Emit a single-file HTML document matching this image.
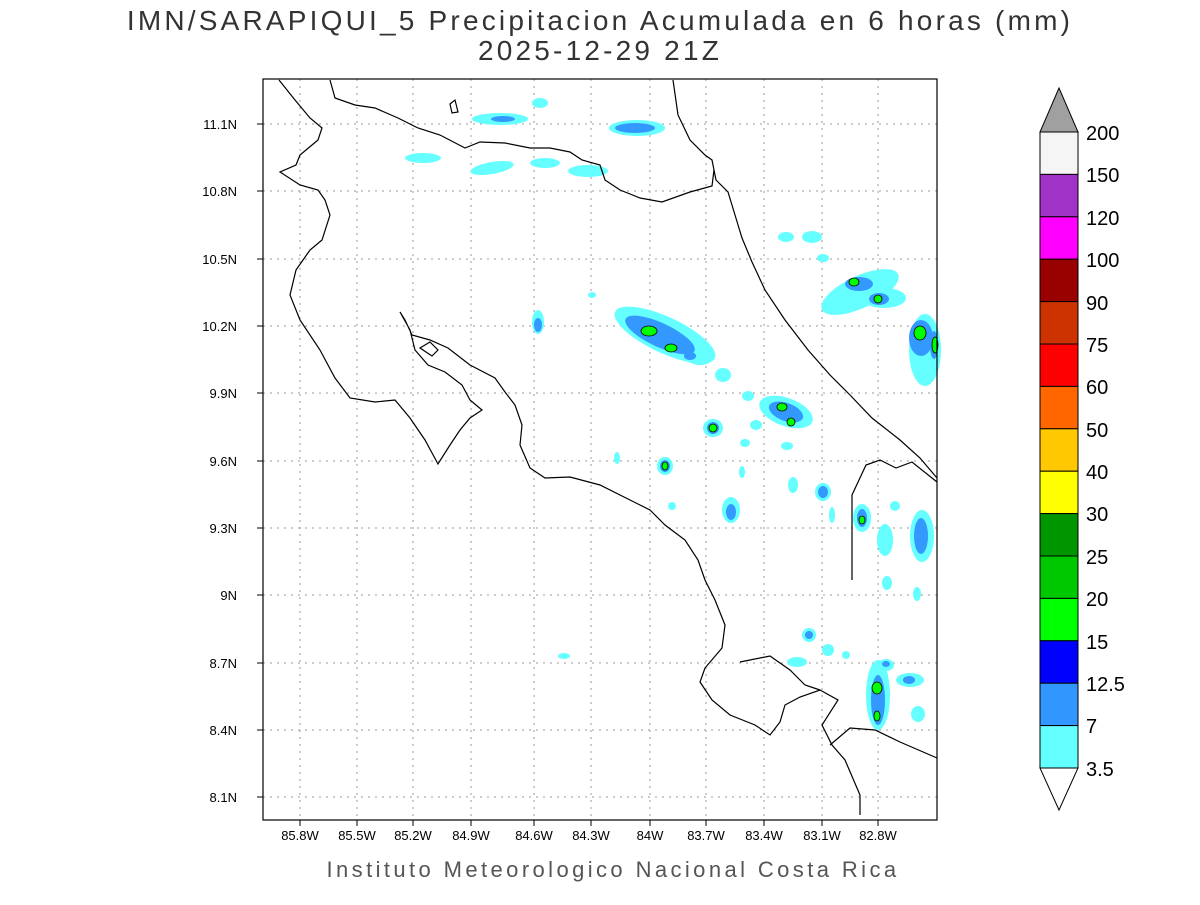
<!DOCTYPE html>
<html><head><meta charset="utf-8"><style>
body{margin:0;background:#fff;}
svg text{font-family:"Liberation Sans",sans-serif;}
</style></head><body>
<svg width="1200" height="900" xmlns="http://www.w3.org/2000/svg">
<rect width="1200" height="900" fill="#fff"/>
<text x="600" y="30" font-size="28" text-anchor="middle" fill="#333" letter-spacing="3.2">IMN/SARAPIQUI_5 Precipitacion Acumulada en 6 horas (mm)</text>
<text x="600" y="60" font-size="28" text-anchor="middle" fill="#333" letter-spacing="3.2">2025-12-29 21Z</text>
<text x="613" y="877" font-size="22" text-anchor="middle" fill="#555" letter-spacing="3.4">Instituto Meteorologico Nacional Costa Rica</text>
<g stroke="#999" stroke-dasharray="2,5" stroke-width="1">
<line x1="300" y1="79" x2="300" y2="820"/><line x1="357" y1="79" x2="357" y2="820"/><line x1="413" y1="79" x2="413" y2="820"/><line x1="471" y1="79" x2="471" y2="820"/><line x1="534" y1="79" x2="534" y2="820"/><line x1="591" y1="79" x2="591" y2="820"/><line x1="650" y1="79" x2="650" y2="820"/><line x1="706" y1="79" x2="706" y2="820"/><line x1="764" y1="79" x2="764" y2="820"/><line x1="822" y1="79" x2="822" y2="820"/><line x1="878" y1="79" x2="878" y2="820"/>
<line x1="263" y1="124" x2="937" y2="124"/><line x1="263" y1="191" x2="937" y2="191"/><line x1="263" y1="259" x2="937" y2="259"/><line x1="263" y1="326" x2="937" y2="326"/><line x1="263" y1="393" x2="937" y2="393"/><line x1="263" y1="461" x2="937" y2="461"/><line x1="263" y1="528" x2="937" y2="528"/><line x1="263" y1="595" x2="937" y2="595"/><line x1="263" y1="663" x2="937" y2="663"/><line x1="263" y1="730" x2="937" y2="730"/><line x1="263" y1="797" x2="937" y2="797"/>
</g>
<g>
<g fill="#66ffff">
<ellipse cx="500" cy="119" rx="28" ry="6"/><ellipse cx="540" cy="103" rx="8" ry="5"/><ellipse cx="423" cy="158" rx="18" ry="5"/><ellipse cx="492" cy="168" rx="22" ry="6" transform="rotate(-10 492 168)"/><ellipse cx="545" cy="163" rx="15" ry="5"/><ellipse cx="588" cy="171" rx="20" ry="6"/><ellipse cx="637" cy="128" rx="28" ry="8"/>
<ellipse cx="786" cy="237" rx="8" ry="5"/><ellipse cx="812" cy="237" rx="10" ry="6"/><ellipse cx="823" cy="258" rx="6" ry="4"/>
<ellipse cx="860" cy="292" rx="42" ry="16" transform="rotate(-25 860 292)"/><ellipse cx="884" cy="298" rx="22" ry="10"/>
<ellipse cx="925" cy="350" rx="16" ry="36"/>
<ellipse cx="538" cy="322" rx="6" ry="12"/><ellipse cx="592" cy="295" rx="4" ry="3"/>
<ellipse cx="665" cy="335" rx="55" ry="18" transform="rotate(25 665 335)"/><ellipse cx="700" cy="357" rx="14" ry="8"/>
<ellipse cx="723" cy="375" rx="8" ry="7"/><ellipse cx="748" cy="396" rx="6" ry="5"/><ellipse cx="786" cy="412" rx="28" ry="14" transform="rotate(20 786 412)"/><ellipse cx="713" cy="428" rx="10" ry="9"/><ellipse cx="756" cy="425" rx="6" ry="5"/><ellipse cx="745" cy="443" rx="5" ry="4"/><ellipse cx="787" cy="446" rx="6" ry="4"/>
<ellipse cx="665" cy="466" rx="8" ry="9"/><ellipse cx="617" cy="458" rx="3" ry="6"/><ellipse cx="731" cy="510" rx="9" ry="13"/><ellipse cx="672" cy="506" rx="4" ry="4"/><ellipse cx="793" cy="485" rx="5" ry="8"/><ellipse cx="823" cy="492" rx="8" ry="9"/><ellipse cx="832" cy="515" rx="3" ry="8"/><ellipse cx="742" cy="472" rx="3" ry="6"/>
<ellipse cx="862" cy="518" rx="9" ry="14"/><ellipse cx="885" cy="540" rx="8" ry="16"/><ellipse cx="922" cy="536" rx="12" ry="26"/><ellipse cx="895" cy="506" rx="5" ry="5"/><ellipse cx="887" cy="583" rx="5" ry="7"/><ellipse cx="917" cy="594" rx="4" ry="7"/>
<ellipse cx="809" cy="635" rx="7" ry="7"/><ellipse cx="828" cy="650" rx="6" ry="6"/><ellipse cx="797" cy="662" rx="10" ry="5"/><ellipse cx="846" cy="655" rx="4" ry="4"/>
<ellipse cx="878" cy="695" rx="12" ry="35"/><ellipse cx="886" cy="665" rx="8" ry="6"/><ellipse cx="910" cy="680" rx="14" ry="7"/><ellipse cx="918" cy="714" rx="7" ry="8"/><ellipse cx="564" cy="656" rx="6" ry="3"/>
</g>
<g fill="#3399ff">
<ellipse cx="503" cy="119" rx="12" ry="3"/><ellipse cx="635" cy="128" rx="20" ry="5"/><ellipse cx="859" cy="284" rx="14" ry="7"/><ellipse cx="879" cy="299" rx="10" ry="6"/><ellipse cx="921" cy="338" rx="12" ry="18"/><ellipse cx="934" cy="345" rx="4" ry="14"/>
<ellipse cx="538" cy="325" rx="4" ry="7"/><ellipse cx="660" cy="335" rx="38" ry="12" transform="rotate(25 660 335)"/><ellipse cx="690" cy="356" rx="6" ry="4"/><ellipse cx="786" cy="412" rx="18" ry="9" transform="rotate(20 786 412)"/><ellipse cx="713" cy="428" rx="6" ry="6"/><ellipse cx="665" cy="466" rx="5" ry="6"/><ellipse cx="731" cy="512" rx="5" ry="8"/><ellipse cx="823" cy="492" rx="5" ry="6"/><ellipse cx="862" cy="518" rx="5" ry="9"/><ellipse cx="921" cy="536" rx="7" ry="18"/><ellipse cx="809" cy="635" rx="4" ry="4"/><ellipse cx="878" cy="700" rx="7" ry="25"/><ellipse cx="909" cy="680" rx="6" ry="4"/><ellipse cx="886" cy="664" rx="4" ry="3"/>
</g>
<g fill="#00ff00" stroke="#000" stroke-width="0.8">
<ellipse cx="649" cy="331" rx="8" ry="5"/><ellipse cx="671" cy="348" rx="6" ry="4"/><ellipse cx="854" cy="282" rx="5" ry="4"/><ellipse cx="878" cy="299" rx="4" ry="4"/><ellipse cx="920" cy="333" rx="6" ry="7"/><ellipse cx="935" cy="345" rx="3" ry="8"/><ellipse cx="782" cy="407" rx="5" ry="4"/><ellipse cx="791" cy="422" rx="4" ry="4"/><ellipse cx="713" cy="428" rx="4" ry="4"/><ellipse cx="665" cy="466" rx="3" ry="4"/><ellipse cx="862" cy="520" rx="3" ry="4"/><ellipse cx="877" cy="688" rx="5" ry="6"/><ellipse cx="877" cy="716" rx="3" ry="5"/>
</g>
</g>
<g fill="none" stroke="#000" stroke-width="1.2">
<polyline points="279,80 295,100 310,118 322,128 318,140 300,155 296,165 280,172 300,185 318,190 325,200 330,215 322,240 310,250 296,270 290,295 300,320 320,350 335,378 350,398 375,402 395,400 410,418 425,440 438,464 450,445 460,430 470,418 482,410 470,400 462,385 445,372 428,365 415,350 410,330 400,312 405,320 412,335 430,340 448,348 470,365 495,378 505,392 515,405 522,425 520,445 530,468 545,478 570,477 600,485 630,500 650,510 665,525 685,540 698,560 705,580 715,600 725,625 722,648 705,668 700,682 712,700 730,715 755,725 770,735 780,722 785,705 800,697 820,690 838,700 822,725 832,745 845,760 860,795 860,815"/>
<polyline points="740,662 770,656 790,670 805,685 820,690"/>
<polyline points="673,80 678,115 690,140 705,155 712,160 716,180 728,192 735,215 742,238 752,262 765,290 785,320 808,350 830,375 850,395 872,418 900,440 920,458 937,478"/>
<polyline points="852,580 852,495 866,465 880,460 896,468 912,462 937,482"/>
<polyline points="330,80 335,98 355,105 375,108 398,118 418,128 440,135 465,148 480,142 505,143 530,148 550,148 570,152 582,160 600,165 605,180 620,190 640,198 662,202 690,192 712,186 714,170"/>
<polygon points="420,348 430,342 438,350 432,356"/>
<polygon points="450,104 455,100 458,112 452,113"/>
<polyline points="830,745 850,728 875,730 900,742 937,758"/>
</g>
<rect x="263" y="79" width="674" height="741" fill="none" stroke="#000" stroke-width="1.2"/>
<g font-size="13" fill="#000" text-anchor="middle">
<text x="300" y="840">85.8W</text><text x="357" y="840">85.5W</text><text x="413" y="840">85.2W</text><text x="471" y="840">84.9W</text><text x="534" y="840">84.6W</text><text x="591" y="840">84.3W</text><text x="650" y="840">84W</text><text x="706" y="840">83.7W</text><text x="764" y="840">83.4W</text><text x="822" y="840">83.1W</text><text x="878" y="840">82.8W</text>
</g>
<g font-size="13" fill="#000" text-anchor="end">
<text x="237" y="129">11.1N</text><text x="237" y="196">10.8N</text><text x="237" y="264">10.5N</text><text x="237" y="331">10.2N</text><text x="237" y="398">9.9N</text><text x="237" y="466">9.6N</text><text x="237" y="533">9.3N</text><text x="237" y="600">9N</text><text x="237" y="668">8.7N</text><text x="237" y="735">8.4N</text><text x="237" y="802">8.1N</text>
</g>
<g stroke="#000" stroke-width="1">
<line x1="263" y1="124" x2="257" y2="124"/><line x1="263" y1="191" x2="257" y2="191"/><line x1="263" y1="259" x2="257" y2="259"/><line x1="263" y1="326" x2="257" y2="326"/><line x1="263" y1="393" x2="257" y2="393"/><line x1="263" y1="461" x2="257" y2="461"/><line x1="263" y1="528" x2="257" y2="528"/><line x1="263" y1="595" x2="257" y2="595"/><line x1="263" y1="663" x2="257" y2="663"/><line x1="263" y1="730" x2="257" y2="730"/><line x1="263" y1="797" x2="257" y2="797"/>
<line x1="300" y1="820" x2="300" y2="826"/><line x1="357" y1="820" x2="357" y2="826"/><line x1="413" y1="820" x2="413" y2="826"/><line x1="471" y1="820" x2="471" y2="826"/><line x1="534" y1="820" x2="534" y2="826"/><line x1="591" y1="820" x2="591" y2="826"/><line x1="650" y1="820" x2="650" y2="826"/><line x1="706" y1="820" x2="706" y2="826"/><line x1="764" y1="820" x2="764" y2="826"/><line x1="822" y1="820" x2="822" y2="826"/><line x1="878" y1="820" x2="878" y2="826"/>
</g>
<g stroke="#000" stroke-width="1">
<polygon points="1040,132 1078,132 1059,88" fill="#a0a0a0"/>
<rect x="1040" y="132" width="38" height="42.4" fill="#f5f5f5"/>
<rect x="1040" y="174.4" width="38" height="42.4" fill="#a032c8"/>
<rect x="1040" y="216.8" width="38" height="42.4" fill="#ff00ff"/>
<rect x="1040" y="259.2" width="38" height="42.4" fill="#990000"/>
<rect x="1040" y="301.6" width="38" height="42.4" fill="#cc3300"/>
<rect x="1040" y="344" width="38" height="42.4" fill="#ff0000"/>
<rect x="1040" y="386.4" width="38" height="42.4" fill="#ff6600"/>
<rect x="1040" y="428.8" width="38" height="42.4" fill="#ffc800"/>
<rect x="1040" y="471.2" width="38" height="42.4" fill="#ffff00"/>
<rect x="1040" y="513.6" width="38" height="42.4" fill="#009600"/>
<rect x="1040" y="556" width="38" height="42.4" fill="#00c800"/>
<rect x="1040" y="598.4" width="38" height="42.4" fill="#00ff00"/>
<rect x="1040" y="640.8" width="38" height="42.4" fill="#0000ff"/>
<rect x="1040" y="683.2" width="38" height="42.4" fill="#3296ff"/>
<rect x="1040" y="725.6" width="38" height="42.4" fill="#64ffff"/>
<polygon points="1040,768 1078,768 1059,810" fill="#fff"/>
</g>
<g font-size="20" fill="#000">
<text x="1086" y="140">200</text><text x="1086" y="182">150</text><text x="1086" y="225">120</text><text x="1086" y="267">100</text><text x="1086" y="310">90</text><text x="1086" y="352">75</text><text x="1086" y="394">60</text><text x="1086" y="437">50</text><text x="1086" y="479">40</text><text x="1086" y="521">30</text><text x="1086" y="564">25</text><text x="1086" y="606">20</text><text x="1086" y="649">15</text><text x="1086" y="691">12.5</text><text x="1086" y="733">7</text><text x="1086" y="776">3.5</text>
</g>
</svg>
</body></html>
